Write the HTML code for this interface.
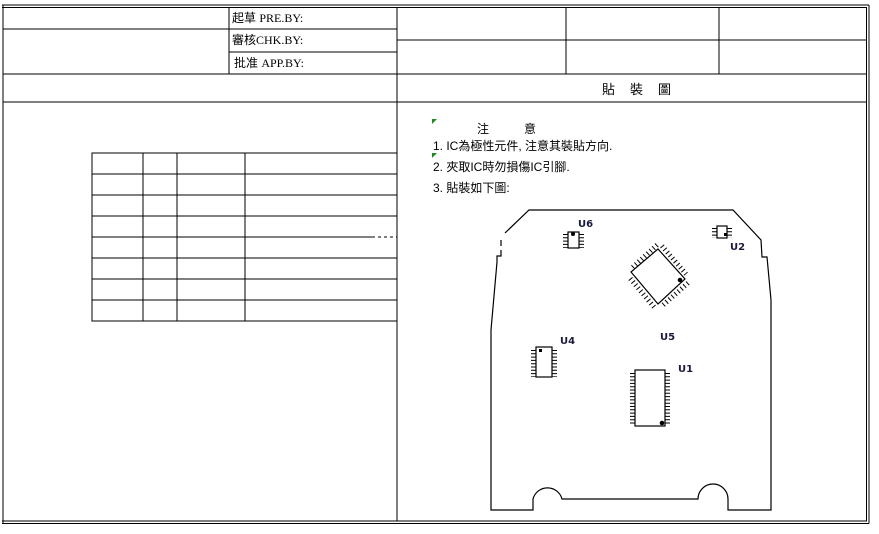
<!DOCTYPE html>
<html><head><meta charset="utf-8"><style>
html,body{margin:0;padding:0;background:#fff;}
svg{display:block;}
text{font-family:"Liberation Serif","Noto Sans CJK TC",serif;font-size:12px;fill:#000;}
.c{font-family:"Liberation Sans","Noto Sans CJK TC",sans-serif;}
.u{font-family:"DejaVu Sans",sans-serif;font-weight:bold;font-size:10px;fill:#1a1a40;}
</style></head><body>
<svg width="879" height="534" viewBox="0 0 879 534" xmlns="http://www.w3.org/2000/svg">
<g stroke="#000" stroke-width="1.2" fill="none" shape-rendering="crispEdges">
<line x1="2" y1="5" x2="869" y2="5"/><line x1="2" y1="7.5" x2="867" y2="7.5"/>
<line x1="2" y1="521" x2="867" y2="521"/><line x1="2" y1="523.5" x2="869" y2="523.5"/>
<line x1="3" y1="5" x2="3" y2="523"/>
<line x1="866.5" y1="7" x2="866.5" y2="521"/><line x1="869" y1="5" x2="869" y2="523.5"/>
<line x1="3" y1="29" x2="397" y2="29"/>
<line x1="229" y1="52" x2="397" y2="52"/>
<line x1="3" y1="74" x2="867" y2="74"/>
<line x1="3" y1="102" x2="867" y2="102"/>
<line x1="229" y1="7" x2="229" y2="74"/>
<line x1="397" y1="7" x2="397" y2="521"/>
<line x1="397" y1="40" x2="867" y2="40"/>
<line x1="566" y1="7" x2="566" y2="74"/>
<line x1="719" y1="7" x2="719" y2="74"/>
<!-- left table -->
<rect x="92" y="153" width="305" height="168"/>
<line x1="143" y1="153" x2="143" y2="321"/>
<line x1="177" y1="153" x2="177" y2="321"/>
<line x1="245" y1="153" x2="245" y2="321"/>
<line x1="92" y1="174" x2="397" y2="174"/>
<line x1="92" y1="195" x2="397" y2="195"/>
<line x1="92" y1="216" x2="397" y2="216"/>
<line x1="92" y1="237" x2="397" y2="237"/>
<line x1="92" y1="258" x2="397" y2="258"/>
<line x1="92" y1="279" x2="397" y2="279"/>
<line x1="92" y1="300" x2="397" y2="300"/>
</g>
<line x1="375" y1="237" x2="396" y2="237" stroke="#fff" stroke-width="1.5" stroke-dasharray="3 3"/>
<text x="232" y="22" class="c">起草 <tspan font-family="Liberation Serif">PRE.BY:</tspan></text>
<text x="232" y="44" class="c">審核<tspan font-family="Liberation Serif">CHK.BY:</tspan></text>
<text x="234" y="67" class="c">批准 <tspan font-family="Liberation Serif">APP.BY:</tspan></text>
<text x="602" y="94" class="c" style="font-size:13px;letter-spacing:1px">貼　裝　圖</text>
<polygon points="432,119 437,119 432,124" fill="#1a8a1a"/>
<polygon points="432,153 437,153 432,158" fill="#1a8a1a"/>
<text x="477" y="133" class="c">注</text><text x="524" y="133" class="c">意</text>
<text x="433" y="150" class="c">1. IC為極性元件, 注意其裝貼方向.</text>
<text x="433" y="171" class="c">2. 夾取IC時勿損傷IC引腳.</text>
<text x="433" y="192" class="c">3. 貼裝如下圖:</text>
<!-- board -->
<g stroke="#000" stroke-width="1.2" fill="none">
<path d="M505,233 L529,210 L733,210 L761,240 L762,257 L767,257 L771,300 L771,510 L728,510 L728,499 A15,15 0 0 0 698,499 L562,499 A15,15 0 0 0 533,499 L533,510 L491,510 L491,330 L497,262 L497,256 L501,256 L501,250"/>
<line x1="501" y1="240" x2="501" y2="246"/>
<!-- U6 -->
<rect x="568" y="232" width="11" height="16"/>
<!-- U2 -->
<rect x="717" y="226" width="10" height="12"/>
<!-- U4 -->
<rect x="536" y="347" width="16" height="30"/>
<!-- U1 -->
<rect x="635" y="370" width="30" height="56"/>
<!-- U5 -->
<polygon points="658,249 685,279 658,304 631,272"/>
</g>
<g stroke="#000" stroke-width="5" fill="none" stroke-dasharray="1 2.3">
<line x1="565.5" y1="234" x2="565.5" y2="248"/><line x1="581.5" y1="234" x2="581.5" y2="248"/>
<line x1="714.5" y1="228" x2="714.5" y2="238"/><line x1="729.5" y1="228" x2="729.5" y2="238"/>
<line x1="533.5" y1="350" x2="533.5" y2="377"/><line x1="554.5" y1="350" x2="554.5" y2="377"/>
<line x1="632.5" y1="373" x2="632.5" y2="425"/><line x1="667.5" y1="373" x2="667.5" y2="425"/>
</g>
<g stroke="#000" stroke-width="5" fill="none" stroke-dasharray="1 3">
<line x1="657" y1="245" x2="632" y2="268"/>
<line x1="662" y1="246" x2="686" y2="274"/>
<line x1="688" y1="283" x2="662" y2="306"/>
<line x1="654" y1="307" x2="629" y2="277"/>
</g>
<circle cx="573" cy="234" r="2" fill="#000"/>
<rect x="724" y="233" width="3" height="3" fill="#000"/>
<rect x="539" y="349" width="3" height="3" fill="#000"/>
<circle cx="662" cy="423" r="2.3" fill="#000"/>
<circle cx="680" cy="280" r="2.3" fill="#000"/>
<text x="578" y="227" class="u">U6</text>
<text x="730" y="250" class="u">U2</text>
<text x="560" y="344" class="u">U4</text>
<text x="660" y="340" class="u">U5</text>
<text x="678" y="372" class="u">U1</text>
</svg>
</body></html>
